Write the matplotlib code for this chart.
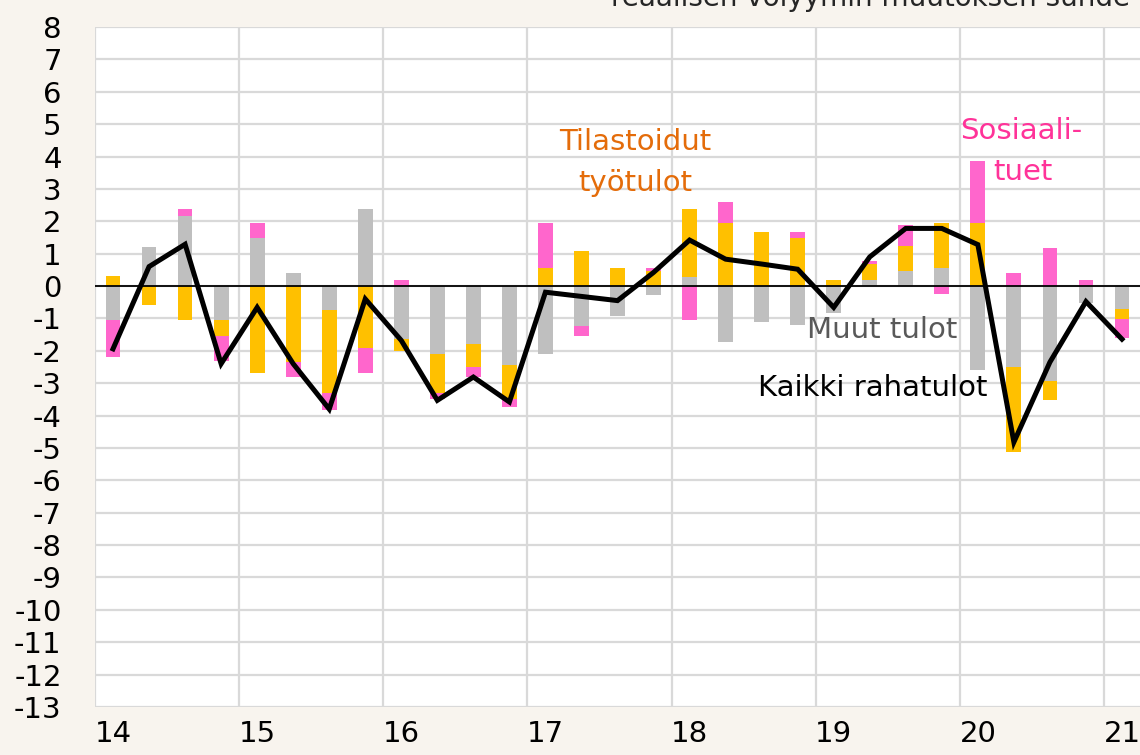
import numpy as np
import matplotlib
matplotlib.use('Agg')
import matplotlib.pyplot as plt

plt.rcParams['axes.unicode_minus'] = False

# Neljännekset 2014Q1 - 2021Q1
years = ['14', '15', '16', '17', '18', '19', '20', '21']
muut = [-1.05, 1.2, 2.16, -1.06, 1.48, 0.39, -0.74, 2.38,
        -1.64, -2.11, -1.8, -2.45, -2.11, -1.22, -0.93, -0.29,
        0.29, -1.74, -1.1, -1.2, -0.83, 0.18, 0.45, 0.55,
        -2.6, -2.51, -2.94, -0.53, -0.71]
tyotulot = [0.3, -0.6, -1.05, -0.47, -2.7, -2.34, -2.56, -1.92,
            -0.36, -1.19, -0.7, -1.05, 0.55, 1.09, 0.55, 0.45,
            2.08, 1.96, 1.68, 1.48, 0.18, 0.5, 0.79, 1.41,
            1.95, -2.62, -0.58, 0.0, -0.31]
sosiaali = [-1.15, 0.0, 0.22, -0.79, 0.47, -0.47, -0.53, -0.78,
            0.18, -0.2, -0.31, -0.23, 1.4, -0.31, 0.0, 0.1,
            -1.05, 0.64, 0.0, 0.2, 0.0, 0.1, 0.65, -0.25,
            1.92, 0.39, 1.18, 0.2, -0.58]
kaikki = [-1.94, 0.6, 1.29, -2.4, -0.66, -2.4, -3.8, -0.4,
          -1.68, -3.53, -2.81, -3.58, -0.19, -0.32, -0.45, 0.42,
          1.42, 0.83, 0.68, 0.52, -0.66, 0.9, 1.78, 1.78,
          1.28, -4.82, -2.35, -0.48, -1.64]

bg = '#F8F4EE'
grid_c = '#D9D9D9'
fs = 21

fig = plt.figure(figsize=(11.4, 7.55), dpi=100, facecolor=bg)
ax = fig.add_axes([95/1140, 48/755, 1045/1140, 680/755])
ax.set_facecolor('white')

x = np.arange(len(muut))
pos_bottom = np.zeros(len(x))
neg_bottom = np.zeros(len(x))
for vals, col in [(muut, '#BFBFBF'), (tyotulot, '#FFC000'), (sosiaali, '#FF66CC')]:
    v = np.array(vals)
    bottom = np.where(v >= 0, pos_bottom, neg_bottom)
    ax.bar(x, v, 0.41, bottom=bottom, color=col, zorder=3)
    pos_bottom += np.where(v >= 0, v, 0)
    neg_bottom += np.where(v < 0, v, 0)

ax.axhline(0, color='black', lw=1.3, zorder=4)
ax.plot(x, kaikki, color='black', lw=3.6, zorder=5, solid_joinstyle='miter')

ax.set_xlim(-0.5, len(x) - 0.5)
ax.set_ylim(-13, 8)
ax.set_yticks(range(-13, 9))
ax.set_xticks(np.arange(0, len(x), 4))
ax.set_xticklabels(years)
ax.tick_params(length=0, labelsize=fs)
ax.tick_params(axis='y', pad=24)
ax.tick_params(axis='x', pad=9)

for yv in range(-13, 9):
    ax.axhline(yv, color=grid_c, lw=1.6, zorder=1)
for xv in np.arange(-0.5, len(x), 4):
    ax.axvline(xv, color=grid_c, lw=1.6, zorder=1)
for s in ax.spines.values():
    s.set_visible(False)

ax.text(14.49, 4.44, 'Tilastoidut', color='#E46C0A', fontsize=fs, ha='center', va='center')
ax.text(14.49, 3.18, 'työtulot', color='#E46C0A', fontsize=fs, ha='center', va='center')
ax.text(25.2, 4.78, 'Sosiaali-', color='#FF3399', fontsize=fs, ha='center', va='center')
ax.text(25.25, 3.52, 'tuet', color='#FF3399', fontsize=fs, ha='center', va='center')
ax.text(21.34, -1.36, 'Muut tulot', color='#595959', fontsize=fs, ha='center', va='center')
ax.text(21.07, -3.15, 'Kaikki rahatulot', color='black', fontsize=fs, ha='center', va='center')

fig.text(1130/1140, 1 - 6/755, 'reaalisen volyymin muutoksen suhde', fontsize=20,
         color='#262626', ha='right', va='baseline')

fig.savefig('out.png', dpi=100, facecolor=bg)
